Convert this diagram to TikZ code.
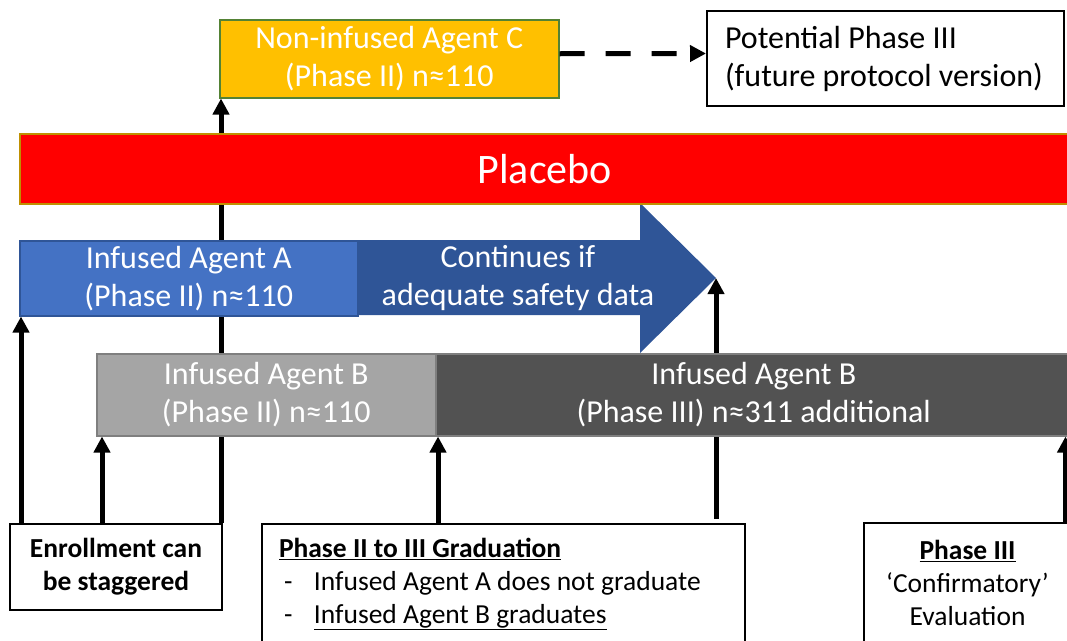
\documentclass[tikz,border=0pt]{standalone}
\usepackage{fontspec}
\setmainfont{Carlito}
\usetikzlibrary{arrows.meta}

\definecolor{agentgold}{HTML}{FFC000}
\definecolor{agentgreen}{HTML}{548235}
\definecolor{placebored}{HTML}{FF0000}
\definecolor{placeboedge}{HTML}{BF9000}
\definecolor{agentblue}{HTML}{4472C4}
\definecolor{contblue}{HTML}{2F5597}
\definecolor{lightgrey}{HTML}{A5A5A5}
\definecolor{darkgrey}{HTML}{525252}
\definecolor{edgegrey}{HTML}{7F7F7F}

\begin{document}
\begin{tikzpicture}[x=1pt,y=-1pt,
    bar/.style={draw, line width=1.5pt, text=white, align=center, inner sep=0pt,
      anchor=north west, font=\fontsize{32}{38}\selectfont},
    note/.style={draw=black, line width=2pt, fill=white, inner sep=0pt, align=center,
      anchor=north west, font=\fontsize{27.5}{33}\selectfont},
    flow/.style={line width=5pt, -{Triangle[width=16pt,length=16pt]}}]
  \useasboundingbox (0,0) rectangle (1067,640);
  \clip (0,0) rectangle (1067,640);

  % notes below and top right
  \node[note, minimum width=212pt, minimum height=86pt,
    font=\fontsize{27.5}{33}\selectfont\bfseries] (enroll) at (9,523) {Enrollment can\\be staggered};
  \node[note, align=flush left, text width=449pt, inner xsep=17pt, minimum height=120pt] (grad) at (261,523)
    {\textbf{\underline{Phase II to III Graduation}}\\
     \hspace*{5pt}\makebox[30pt][l]{-}Infused Agent A does not graduate\\
     \hspace*{5pt}\makebox[30pt][l]{-}\underline{Infused Agent B graduates}};
  \node[note, minimum width=207pt, minimum height=120pt] (phase3) at (863,522)
    {\textbf{\underline{Phase III}}\\‘Confirmatory’\\Evaluation};
  \node[note, align=flush left, text width=321pt, inner xsep=18pt, minimum height=95pt,
    font=\fontsize{32}{38}\selectfont] (potential) at (706,10) {Potential Phase III\\(future protocol version)};
  \node[bar, fill=agentgold, draw=agentgreen, minimum width=339pt, minimum height=78pt] (agentc) at (219,19)
    {Non-infused Agent C\\(Phase II) n≈110};

  % safety arrow
  \fill[contblue] (357,240) -- (640,240) -- (640,203) -- (716,278) coordinate (tip)
    -- (640,353) -- (640,315) -- (357,315) -- cycle;

  % long connectors behind the bars
  \coordinate (inC) at ([xshift=2pt]agentc.south west);
  \draw[flow] (inC |- enroll.north) -- (inC);
  \draw[flow] ([yshift=4pt]tip |- grad.north) -- (tip);

  % arms
  \node[bar, fill=placebored, draw=placeboedge, minimum width=1050pt, minimum height=70pt,
    font=\fontsize{42}{50}\selectfont] (placebo) at (19,133) {Placebo};
  \node[bar, fill=agentblue, draw=contblue, minimum width=338pt, minimum height=75pt] (agenta) at (19,240)
    {Infused Agent A\\(Phase II) n≈110};
  \node[text=white, align=center, font=\fontsize{32}{38}\selectfont] (cont) at (518,278)
    {Continues if\\adequate safety data};
  \node[bar, fill=lightgrey, draw=edgegrey, minimum width=339pt, minimum height=82pt] (agentb) at (96,353)
    {Infused Agent B\\(Phase II) n≈110};
  \node[bar, fill=darkgrey, draw=edgegrey, minimum width=636pt, minimum height=82pt] (agentbiii) at (435,353)
    {Infused Agent B\\(Phase III) n≈311 additional};

  % short connectors
  \coordinate (inA) at ([xshift=2pt]agenta.south west);
  \coordinate (inB) at ([xshift=6pt]agentb.south west);
  \coordinate (inBiii) at ([xshift=3pt]agentbiii.south west);
  \coordinate (inP) at ([xshift=-7pt]agentbiii.south east);
  \draw[flow] (inA |- enroll.north) -- (inA);
  \draw[flow] (inB |- enroll.north) -- (inB);
  \draw[flow] (inBiii |- grad.north) -- (inBiii);
  \draw[flow] (inP |- phase3.north) -- (inP);
  \draw[flow, dash pattern=on 25pt off 21pt] ([yshift=5pt]agentc.east) -- ([yshift=5pt]potential.west);
\end{tikzpicture}
\end{document}
